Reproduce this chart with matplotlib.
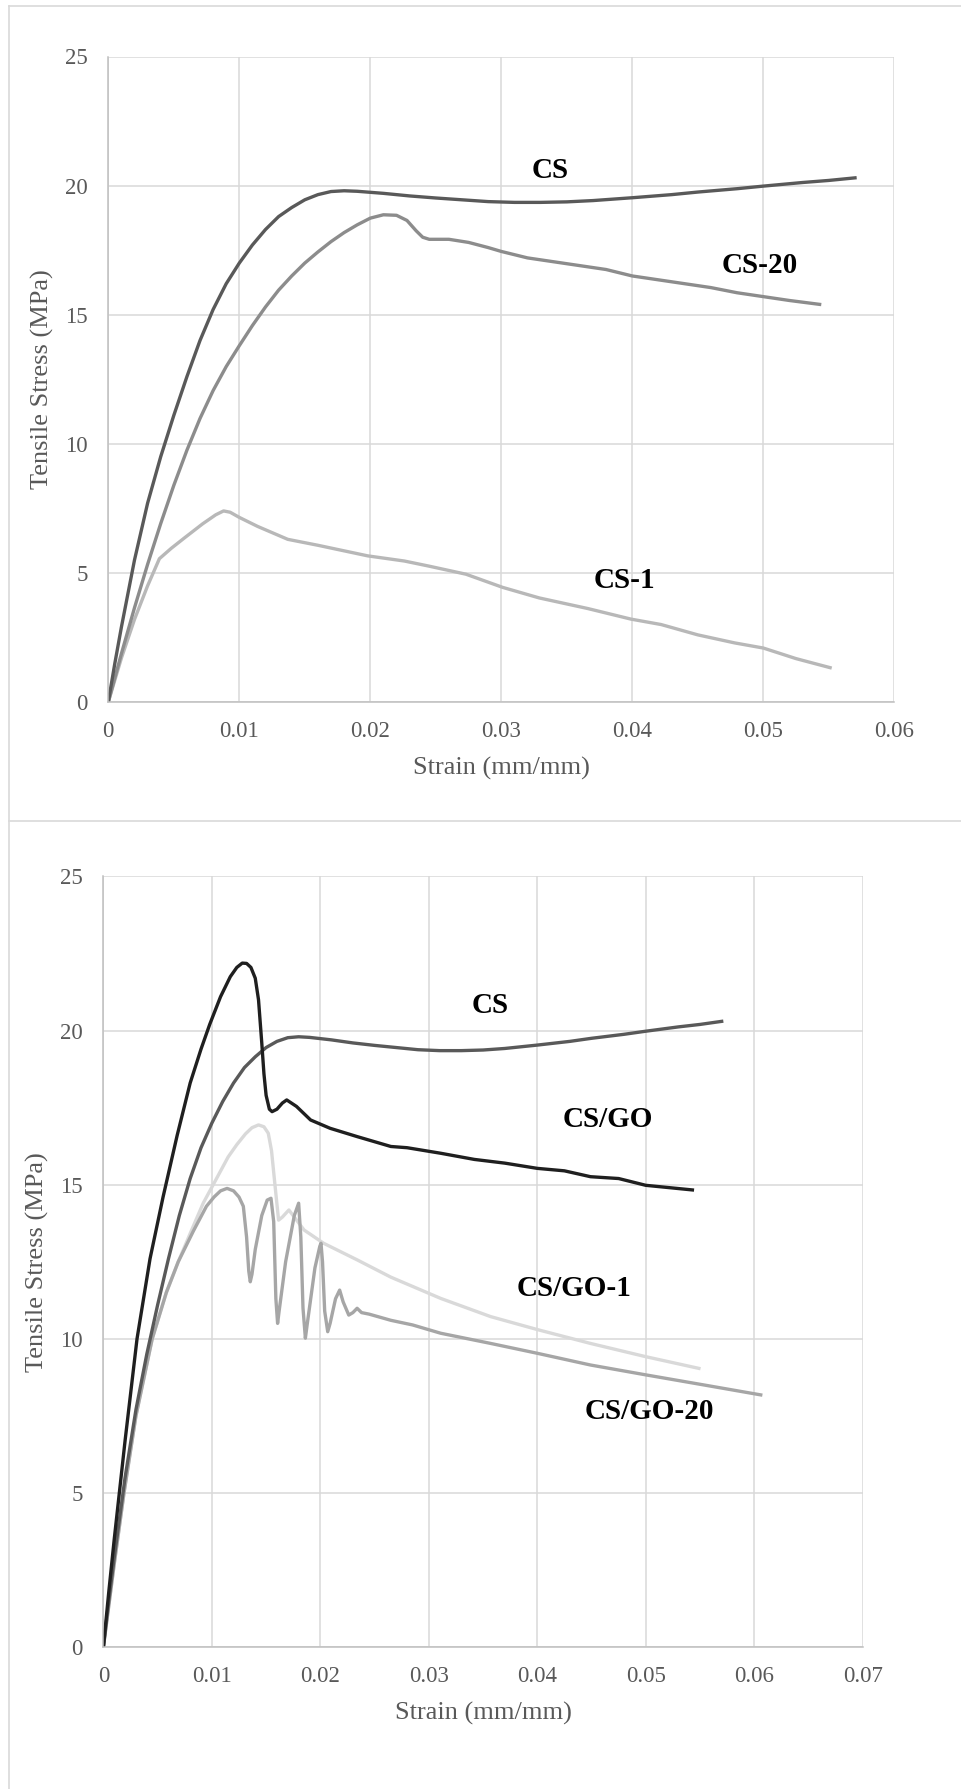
import matplotlib
matplotlib.use("Agg")

import matplotlib.pyplot as plt
from matplotlib.lines import Line2D


# ---- data ----

cs_strain = [0, 0.0005, 0.001, 0.002, 0.003, 0.004, 0.005, 0.006, 0.007,
             0.008, 0.009, 0.010, 0.011, 0.012, 0.013, 0.014, 0.015, 0.016,
             0.017, 0.018, 0.019, 0.021, 0.023, 0.025, 0.027, 0.029, 0.031,
             0.033, 0.035, 0.037, 0.040, 0.043, 0.045, 0.048, 0.050, 0.053,
             0.055, 0.057]
cs_stress = [0, 1.5, 2.9, 5.5, 7.7, 9.5, 11.1, 12.6, 14.0,
             15.2, 16.2, 17.0, 17.7, 18.3, 18.8, 19.15, 19.45, 19.65,
             19.77, 19.8, 19.78, 19.7, 19.6, 19.52, 19.45, 19.38, 19.35,
             19.35, 19.37, 19.42, 19.53, 19.65, 19.75, 19.88, 19.98, 20.12,
             20.2, 20.3]

cs20_strain = [0, 0.001, 0.002, 0.003, 0.004, 0.005, 0.006, 0.007, 0.008,
               0.009, 0.010, 0.011, 0.012, 0.013, 0.014, 0.015, 0.016, 0.017,
               0.018, 0.019, 0.020, 0.021, 0.022, 0.0228, 0.0235, 0.024,
               0.0245, 0.026, 0.0275, 0.029, 0.030, 0.032, 0.034, 0.036,
               0.038, 0.040, 0.042, 0.044, 0.046, 0.048, 0.050, 0.052, 0.0543]
cs20_stress = [0, 1.87, 3.65, 5.33, 6.91, 8.39, 9.75, 10.98, 12.06,
               12.99, 13.8, 14.58, 15.3, 15.95, 16.5, 17.0, 17.43, 17.83,
               18.18, 18.48, 18.74, 18.87, 18.85, 18.65, 18.25, 18.0,
               17.92, 17.92, 17.8, 17.6, 17.45, 17.2, 17.05, 16.9,
               16.75, 16.5, 16.35, 16.2, 16.05, 15.85, 15.7, 15.55, 15.4]

cs1_strain = [0, 0.001, 0.002, 0.003, 0.0039, 0.0048, 0.0058, 0.0072, 0.0082,
              0.0088, 0.0093, 0.0100, 0.0114, 0.0137, 0.016, 0.0198, 0.0226,
              0.0245, 0.0273, 0.0301, 0.0329, 0.0366, 0.0399, 0.0422, 0.045,
              0.0478, 0.050, 0.0525, 0.0551]
cs1_stress = [0, 1.7, 3.2, 4.5, 5.55, 5.95, 6.35, 6.9, 7.25,
              7.4, 7.35, 7.15, 6.8, 6.3, 6.07, 5.66, 5.46,
              5.26, 4.95, 4.44, 4.03, 3.62, 3.21, 3.0, 2.6,
              2.29, 2.09, 1.68, 1.33]

csgo_strain = [0, 0.0005, 0.001, 0.002, 0.0031, 0.0043, 0.0055, 0.0068,
               0.008, 0.009, 0.0098, 0.0108, 0.0117, 0.0123, 0.0128, 0.0132,
               0.0136, 0.0140, 0.0143, 0.0146, 0.0148, 0.0150, 0.0153,
               0.01555, 0.0160, 0.0165, 0.0169, 0.0178, 0.0191, 0.0209,
               0.0234, 0.0265, 0.028, 0.0311, 0.0342, 0.037, 0.040, 0.0425,
               0.0449, 0.0475, 0.050, 0.0543]
csgo_stress = [0, 1.8, 3.5, 6.7, 10.0, 12.6, 14.6, 16.6,
               18.3, 19.4, 20.2, 21.1, 21.75, 22.05, 22.19, 22.18,
               22.05, 21.7, 21.0, 19.6, 18.6, 17.9, 17.45,
               17.37, 17.45, 17.65, 17.75, 17.54, 17.1, 16.83,
               16.56, 16.24, 16.2, 16.02, 15.82, 15.7, 15.53, 15.45,
               15.26, 15.2, 14.98, 14.83]

csgo1_strain = [0, 0.001, 0.0019, 0.003, 0.0045, 0.0058, 0.0069, 0.0081,
                0.0092, 0.0102, 0.0115, 0.0123, 0.0131, 0.0137, 0.0143,
                0.0148, 0.0152, 0.0155, 0.0158, 0.01615, 0.0165, 0.0171,
                0.0185, 0.0203, 0.0234, 0.0265, 0.0311, 0.0357, 0.040,
                0.0449, 0.050, 0.0549]
csgo1_stress = [0, 2.7, 5.0, 7.5, 10.0, 11.5, 12.5, 13.5,
                14.4, 15.05, 15.9, 16.3, 16.65, 16.85, 16.94,
                16.88, 16.67, 16.1, 15.05, 13.85, 13.95, 14.18,
                13.53, 13.1, 12.56, 12.0, 11.31, 10.72, 10.3,
                9.85, 9.42, 9.04]

csgo20_strain = [0, 0.001, 0.0019, 0.003, 0.0045, 0.0058, 0.0069, 0.0083,
                 0.0095, 0.0102, 0.0108, 0.0114, 0.0120, 0.0125, 0.0129,
                 0.0132, 0.0134, 0.01354, 0.0137, 0.0140, 0.0146, 0.0151,
                 0.01545, 0.0157, 0.0159, 0.01606, 0.0162, 0.0168, 0.0176,
                 0.0180, 0.0182, 0.0184, 0.01862, 0.0188, 0.0195, 0.01995,
                 0.02006, 0.0202, 0.0204, 0.02068, 0.0209, 0.0214, 0.02178,
                 0.0221, 0.02262, 0.0230, 0.02339, 0.0238, 0.0245, 0.0265,
                 0.0285, 0.0311, 0.0357, 0.040, 0.0449, 0.050, 0.0554, 0.0606]
csgo20_stress = [0, 2.7, 5.0, 7.5, 10.0, 11.5, 12.5, 13.5,
                 14.3, 14.6, 14.8, 14.88, 14.8, 14.6, 14.3,
                 13.3, 12.2, 11.85, 12.1, 12.9, 14.0, 14.5,
                 14.56, 13.8, 11.3, 10.5, 10.9, 12.5, 14.0,
                 14.4, 13.3, 11.0, 10.02, 10.5, 12.3, 13.0,
                 13.1, 12.5, 10.9, 10.23, 10.5, 11.3, 11.58,
                 11.2, 10.77, 10.85, 10.99, 10.85, 10.8, 10.6,
                 10.45, 10.18, 9.85, 9.53, 9.15, 8.83, 8.5, 8.18]

top_labels = ["CS", "CS-20", "CS-1"]
top_label_pos = [(0.0337, 20.6), (0.0497, 16.9), (0.0394, 4.7)]
bottom_labels = ["CS", "CS/GO", "CS/GO-1", "CS/GO-20"]
bottom_label_pos = [(0.0357, 20.8), (0.0465, 17.1), (0.0434, 11.64), (0.0503, 7.63)]


plt.rcParams["font.family"] = ["Liberation Serif", "DejaVu Serif"]

W, H = 961, 1789
fig = plt.figure(figsize=(W / 100, H / 100), dpi=100)


def px_axes(left, top, right, bottom):
    return fig.add_axes([left / W, 1 - bottom / H, (right - left) / W, (bottom - top) / H])


def style_axes(ax, xmax, xlabel_y, ylabel_x):
    n = int(round(xmax * 100))
    ax.set_xlim(0, xmax)
    ax.set_ylim(0, 25)
    ax.set_yticks([0, 5, 10, 15, 20, 25])
    ax.set_xticks([i / 100 for i in range(n + 1)])
    ax.set_xticklabels(["0"] + [f"{i / 100:.2f}" for i in range(1, n + 1)])
    ax.grid(True, color="#d9d9d9", linewidth=1.1)
    ax.set_axisbelow(True)
    for side in ["top", "right"]:
        ax.spines[side].set_visible(False)
    for side in ["left", "bottom"]:
        ax.spines[side].set_color("#bfbfbf")
        ax.spines[side].set_linewidth(1.1)
    ax.tick_params(axis="both", length=0, labelsize=16.5, labelcolor="#595959")
    ax.tick_params(axis="x", pad=14)
    ax.tick_params(axis="y", pad=15)
    ax.set_xlabel("Strain (mm/mm)", fontsize=19, color="#595959", va="center")
    ax.set_ylabel("Tensile Stress (MPa)", fontsize=19, color="#595959", va="center")
    ax.xaxis.set_label_coords(0.5, xlabel_y)
    ax.yaxis.set_label_coords(ylabel_x, 0.5)


# top chart
ax1 = px_axes(108.3, 56.5, 894.3, 702)
ax1.plot(cs1_strain, cs1_stress, color="#b8b8b8", linewidth=2.4)
ax1.plot(cs20_strain, cs20_stress, color="#8c8c8c", linewidth=2.4)
ax1.plot(cs_strain, cs_stress, color="#595959", linewidth=2.4)
style_axes(ax1, 0.06, -0.1022, -0.0844)
for label, (x, y) in zip(top_labels, top_label_pos):
    ax1.text(x, y, label, fontsize=21, fontweight="bold", ha="center", va="center")

# bottom chart
ax2 = px_axes(103.4, 876.5, 862.7, 1647)
ax2.plot(csgo1_strain, csgo1_stress, color="#d9d9d9", linewidth=2.4)
ax2.plot(csgo20_strain, csgo20_stress, color="#a6a6a6", linewidth=2.4)
ax2.plot(cs_strain, cs_stress, color="#595959", linewidth=2.4)
ax2.plot(csgo_strain, csgo_stress, color="#1f1f1f", linewidth=2.4)
style_axes(ax2, 0.07, -0.0857, -0.0865)
for label, (x, y) in zip(bottom_labels, bottom_label_pos):
    ax2.text(x, y, label, fontsize=21, fontweight="bold", ha="center", va="center")

# chart-area borders
frame = dict(color="#d9d9d9", linewidth=1.2, transform=fig.transFigure)
fig.add_artist(Line2D([9 / W, 1], [1 - 6 / H, 1 - 6 / H], **frame))
fig.add_artist(Line2D([9 / W, 9 / W], [1 - 6 / H, 0], **frame))
fig.add_artist(Line2D([9 / W, 1], [1 - 821 / H, 1 - 821 / H], **frame))

fig.savefig("out.png", dpi=100)
